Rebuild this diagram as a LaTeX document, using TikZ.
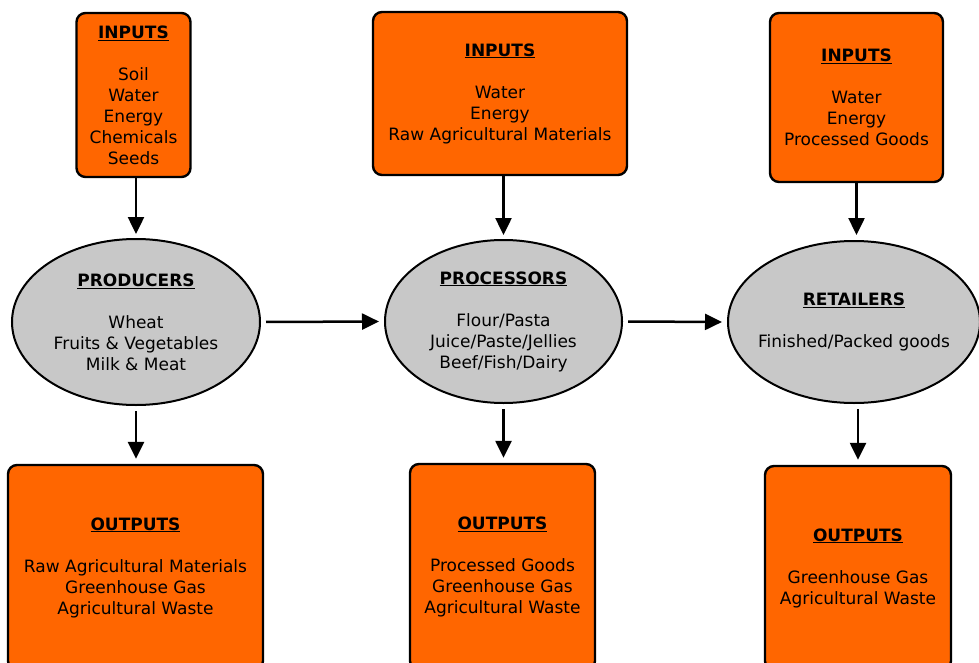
\documentclass[tikz,border=0pt]{standalone}
\usepackage{fontspec}
\setmainfont{DejaVu Sans}
\usetikzlibrary{arrows.meta,shapes.geometric}

\definecolor{boxorange}{RGB}{255,102,0}
\definecolor{stagegray}{RGB}{200,200,200}

\tikzset{
  flowbox/.style={draw=black, line width=2.4pt, fill=boxorange, rounded corners=9pt,
    rectangle, align=center, inner sep=0pt, text=black,
    font=\fontsize{17}{21}\selectfont},
  stage/.style={draw=black, line width=2pt, fill=stagegray, ellipse,
    align=center, inner sep=0pt, text=black,
    font=\fontsize{17}{21}\selectfont},
  stagetext/.style={align=center, inner sep=0pt, text=black,
    font=\fontsize{17}{21}\selectfont},
  flow/.style={line width=2.5pt, -{Triangle[length=17pt,width=16pt]}},
}
\newcommand{\heading}[1]{\underline{\textbf{#1}}\\[21pt]}

\begin{document}
\begin{tikzpicture}[x=1pt,y=-1pt]
\clip (0,0) rectangle (979,663);

% input boxes
\node[flowbox, minimum width=114pt, minimum height=164pt] (in1) at (133.5,95)
  {\heading{INPUTS}Soil\\Water\\Energy\\Chemicals\\Seeds};
\node[flowbox, minimum width=254pt, minimum height=163pt] (in2) at (500,93.5)
  {\heading{INPUTS}Water\\Energy\\Raw Agricultural Materials};
\node[flowbox, minimum width=173pt, minimum height=169pt] (in3) at (856.5,97.5)
  {\heading{INPUTS}Water\\Energy\\Processed Goods};

% supply chain stages
\node[stage, minimum width=248pt, minimum height=166pt] (prod) at (136,322)
  {\heading{PRODUCERS}Wheat\\Fruits \& Vegetables\\Milk \& Meat};
\node[stage, minimum width=237pt, minimum height=163pt] (proc) at (503.5,321.5)
  {\heading{PROCESSORS}Flour/Pasta\\Juice/Paste/Jellies\\Beef/Fish/Dairy};
% the wide label would stretch the ellipse, so it is set on top separately
\node[stage, minimum width=252pt, minimum height=162pt] (ret) at (854,322) {};
\node[stagetext] (retlabel) at (ret.center)
  {\heading{RETAILERS}Finished/Packed goods};

% output boxes
\node[flowbox, minimum width=255pt, minimum height=205pt] (out1) at (135.5,567.5)
  {\heading{OUTPUTS}Raw Agricultural Materials\\Greenhouse Gas\\Agricultural Waste};
\node[flowbox, minimum width=185pt, minimum height=206pt] (out2) at (502.5,567)
  {\heading{OUTPUTS}Processed Goods\\Greenhouse Gas\\Agricultural Waste};
\node[flowbox, minimum width=186pt, minimum height=204pt] (out3) at (858,568)
  {\heading{OUTPUTS}Greenhouse Gas\\Agricultural Waste};

% vertical flows
\draw[flow, shorten >=4pt] (prod.north |- in1.south) -- (prod.north);
\draw[flow, shorten >=4pt] (proc.north |- in2.south) -- (proc.north);
\draw[flow, shorten >=5pt] (in3.south) -- (in3.south |- ret.north);
\draw[flow, shorten <=5pt, shorten >=5pt] (prod.south) -- (prod.south |- out1.north);
\draw[flow, shorten <=5pt, shorten >=5pt] (proc.south) -- (proc.south |- out2.north);
\draw[flow, shorten <=5pt, shorten >=5pt] (ret.south -| out3.north) -- (out3.north);

% horizontal flows
\draw[flow, shorten <=5pt, shorten >=5pt] (prod.east) -- (proc.west);
\draw[flow, shorten <=5pt, shorten >=5pt] (proc.east) -- (ret.west);
\end{tikzpicture}
\end{document}
